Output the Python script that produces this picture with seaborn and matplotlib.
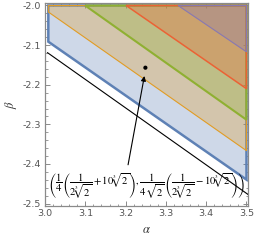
import numpy as np
import matplotlib
matplotlib.use("Agg")
import matplotlib.pyplot as plt
from matplotlib.colors import to_rgba
from matplotlib.ticker import MultipleLocator, FormatStrFormatter
import seaborn as sns

# ---- data ----
region_colors = ["#5E81B5", "#E19C24", "#8FB032", "#EB6235", "#8778B3"]
region_lw = [1.8, 0.8, 1.5, 1.1, 0.8]
# boundary start (left/top) and end (right edge, alpha = 3.5)
bound_alpha_start = [3.008, 3.008, 3.0993, 3.201, 3.330]
bound_beta_start = [-2.0914, -2.0164, -2.0, -2.0, -2.0]
bound_beta_end = [-2.4395, -2.3665, -2.2884, -2.210, -2.117]
alpha_right = 3.5
beta_top = -2.0

line_alpha = [3.0057, 3.504]
line_beta = [-2.1189, -2.477]

point_alpha = [3.249]
point_beta = [-2.157]

arrow_tail = (3.206, -2.402)
arrow_tip = (3.2465, -2.178)

label_pos = (3.2526, -2.4545)
label_text = (r"$\left(\dfrac{1}{4}\left(\dfrac{1}{2\sqrt[3]{2}}+10\sqrt[3]{2}\right),"
              r"\dfrac{1}{4\sqrt{2}}\left(\dfrac{1}{2\sqrt[3]{2}}-10\sqrt[3]{2}\right)\right)$")

# ---- style ----
sns.set_style("ticks")
plt.rcParams["mathtext.fontset"] = "stix"
plt.rcParams["font.family"] = ["DejaVu Sans"]

fig = plt.figure(figsize=(2.55, 2.43), dpi=100)
ax = fig.add_axes([0.1753, 0.1523, 0.7984, 0.8333])

for c, lw, a0, b0, b1 in zip(region_colors, region_lw, bound_alpha_start,
                             bound_beta_start, bound_beta_end):
    xs = [a0, a0, alpha_right, alpha_right]
    ys = [beta_top, b0, b1, beta_top]
    ax.fill(xs, ys, facecolor=to_rgba(c, 0.3), edgecolor=c, linewidth=lw,
            joinstyle="miter", zorder=2)

sns.lineplot(x=line_alpha, y=line_beta, color="black", linewidth=0.8, ax=ax,
             zorder=3)
sns.scatterplot(x=point_alpha, y=point_beta, color="black", s=9, ax=ax,
                edgecolor="none", zorder=4)

ax.annotate("", xy=arrow_tip, xytext=arrow_tail,
            arrowprops=dict(arrowstyle="-|>", color="black", lw=0.8,
                            mutation_scale=7, shrinkA=0, shrinkB=0), zorder=4)
ax.text(label_pos[0], label_pos[1], label_text, ha="center", va="center",
        fontsize=7.7, color="black", zorder=5)

ax.set_xlim(2.999, 3.5045)
ax.set_ylim(-2.506, -1.995)

ax.xaxis.set_major_locator(MultipleLocator(0.1))
ax.xaxis.set_minor_locator(MultipleLocator(0.02))
ax.yaxis.set_major_locator(MultipleLocator(0.1))
ax.yaxis.set_minor_locator(MultipleLocator(0.02))
ax.xaxis.set_major_formatter(FormatStrFormatter("%.1f"))
ax.yaxis.set_major_formatter(FormatStrFormatter("%.1f"))

frame_col = "#8a8a8a"
for s in ax.spines.values():
    s.set_color(frame_col)
    s.set_linewidth(0.9)
ax.tick_params(which="both", direction="in", top=True, right=True,
               color=frame_col, labelcolor="#555555", labelsize=6.8, pad=2.5)
ax.tick_params(which="major", length=3.5, width=0.7)
ax.tick_params(which="minor", length=1.8, width=0.6)

ax.set_xlabel(r"$\alpha$", fontsize=9, color="#333333", labelpad=3)
ax.set_ylabel(r"$\beta$", fontsize=9, color="#333333", labelpad=3)

fig.savefig("out.png", dpi=100)
